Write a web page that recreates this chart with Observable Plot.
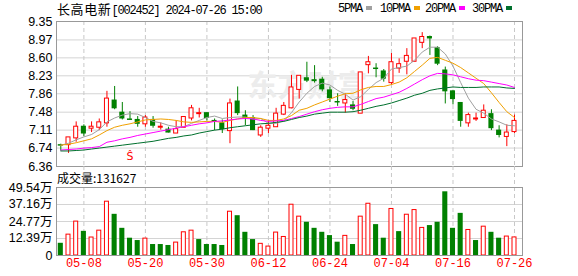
<!DOCTYPE html>
<html><head><meta charset="utf-8">
<script src="https://cdn.jsdelivr.net/npm/d3@7"></script>
<script src="https://cdn.jsdelivr.net/npm/@observablehq/plot@0.6"></script>
<style>
body{margin:0;background:#fff;}
#wrap{position:relative;width:578px;height:276px;overflow:hidden;background:#fff;}
.lbl{position:absolute;white-space:nowrap;line-height:14px;height:14px;color:#000;}
.mono{font-family:"Liberation Mono","Noto Sans CJK SC",monospace;font-size:12px;letter-spacing:-1.2px;}
.sw{display:inline-block;width:6px;height:4px;margin:0 0 2px 4px;}
svg{position:absolute;left:0;}
</style></head><body><div id="wrap"></div>
<script>
const title = "长高电新";
const code = "[002452] 2024-07-26 15:00";
const volLabel = "成交量:131627";
const dates = ["04-30","05-06","05-07","05-08","05-09","05-10","05-13","05-14","05-15","05-16","05-17","05-20","05-21","05-22","05-23","05-24","05-27","05-28","05-29","05-30","05-31","06-03","06-04","06-05","06-06","06-07","06-11","06-12","06-13","06-14","06-17","06-18","06-19","06-20","06-21","06-24","06-25","06-26","06-27","06-28","07-01","07-02","07-03","07-04","07-05","07-08","07-09","07-10","07-11","07-12","07-15","07-16","07-17","07-18","07-19","07-22","07-23","07-24","07-25","07-26"];
const opens  = [6.80,6.81,6.95,7.18,7.15,7.17,7.26,7.72,7.47,7.33,7.32,7.24,7.32,7.17,7.12,7.05,7.17,7.36,7.45,7.46,7.30,7.25,7.10,7.70,7.41,7.36,7.01,7.15,7.18,7.44,7.57,7.95,8.18,8.14,8.15,7.93,7.69,7.67,7.62,7.46,8.46,8.38,8.32,8.09,8.39,8.53,8.53,8.92,9.03,8.80,8.34,7.91,7.67,7.26,7.34,7.37,7.44,7.10,6.98,7.08];
const closes = [6.79,6.95,7.17,7.04,7.17,7.26,7.75,7.56,7.35,7.32,7.24,7.36,7.20,7.17,7.06,7.12,7.37,7.55,7.45,7.36,7.28,7.13,7.65,7.46,7.36,7.11,7.15,7.19,7.44,7.60,7.98,8.22,8.13,8.12,7.95,7.77,7.68,7.72,7.55,8.29,8.50,8.37,8.17,8.50,8.46,8.63,8.99,9.02,9.00,8.48,7.91,7.75,7.30,7.41,7.34,7.50,7.15,7.01,7.05,7.29];
const highs  = [6.82,6.95,7.28,7.22,7.28,7.34,7.91,8.01,7.68,7.49,7.39,7.41,7.39,7.26,7.17,7.30,7.38,7.62,7.56,7.47,7.34,7.32,7.75,8.00,7.51,7.41,7.20,7.30,7.56,7.68,8.24,8.22,8.51,8.44,8.20,8.00,7.86,7.86,7.70,8.30,8.63,8.48,8.36,8.69,8.58,8.79,8.99,9.12,9.05,8.83,8.41,7.93,7.68,7.46,7.46,7.63,7.53,7.20,7.22,7.42];
const lows   = [6.68,6.63,6.86,6.98,7.06,7.10,7.17,7.53,7.32,7.31,7.17,7.17,7.15,7.11,7.05,7.05,7.15,7.30,7.36,7.30,7.10,7.04,6.83,7.41,7.20,7.10,6.96,7.04,7.17,7.41,7.55,7.75,8.09,8.08,7.90,7.68,7.60,7.46,7.51,7.45,8.27,8.19,8.10,8.04,8.28,8.25,8.53,8.79,8.65,8.44,7.65,7.63,7.17,7.17,7.29,7.36,7.10,6.95,6.77,7.04];
const volumes = [8.9,15.2,24.7,17.6,13.1,18.1,39.2,30.0,19.8,12.6,10.9,12.3,8.0,8.0,7.3,9.4,16.9,18.1,11.6,8.0,8.0,7.3,31.9,29.0,16.9,11.6,8.5,6.5,16.7,13.5,37.0,28.3,24.2,19.8,16.9,14.5,9.7,14.3,8.0,28.3,37.7,22.5,12.6,33.9,17.4,29.7,33.1,20.1,21.8,24.2,46.4,19.8,30.7,18.6,10.9,21.0,16.9,12.6,13.8,13.16];
const ma5  = [6.80,6.84,6.91,6.97,7.02,7.12,7.28,7.36,7.42,7.45,7.44,7.37,7.29,7.26,7.21,7.18,7.18,7.25,7.31,7.37,7.40,7.35,7.37,7.38,7.38,7.34,7.35,7.25,7.25,7.30,7.47,7.69,7.87,8.01,8.08,8.04,7.93,7.85,7.73,7.80,7.95,8.09,8.18,8.37,8.40,8.43,8.55,8.72,8.82,8.82,8.68,8.43,8.09,7.77,7.54,7.46,7.34,7.28,7.21,7.20];
const ma10 = [6.80,6.82,6.85,6.89,6.93,7.01,7.10,7.17,7.21,7.24,7.28,7.32,7.33,7.34,7.33,7.31,7.28,7.27,7.28,7.29,7.29,7.27,7.31,7.34,7.37,7.37,7.35,7.31,7.31,7.34,7.41,7.52,7.56,7.63,7.69,7.75,7.81,7.86,7.87,7.94,7.99,8.01,8.01,8.05,8.10,8.19,8.32,8.45,8.59,8.61,8.55,8.49,8.40,8.29,8.18,8.07,7.88,7.68,7.49,7.37];
const ma20 = [6.70,6.71,6.72,6.74,6.75,6.77,6.86,6.89,6.93,6.96,7.00,7.03,7.06,7.09,7.12,7.15,7.18,7.21,7.24,7.26,7.29,7.30,7.32,7.34,7.35,7.34,7.31,7.29,7.30,7.31,7.35,7.39,7.44,7.49,7.53,7.56,7.58,7.59,7.59,7.64,7.70,7.76,7.79,7.84,7.89,7.97,8.06,8.15,8.23,8.28,8.27,8.25,8.21,8.17,8.14,8.13,8.10,8.07,8.04,7.99];
const ma30 = [6.68,6.68,6.69,6.70,6.72,6.74,6.76,6.78,6.80,6.82,6.84,6.86,6.88,6.91,6.94,6.96,6.99,7.01,7.05,7.08,7.11,7.13,7.16,7.18,7.20,7.22,7.24,7.25,7.27,7.29,7.33,7.37,7.40,7.44,7.46,7.48,7.48,7.48,7.49,7.52,7.56,7.60,7.63,7.67,7.72,7.77,7.83,7.87,7.93,7.96,7.98,8.00,7.99,7.99,7.99,8.00,8.00,8.00,7.98,7.97];
const priceTicks = [6.36,6.74,7.11,7.48,7.86,8.23,8.60,8.97,9.35];
const volTicks = [0,12.39,24.77,37.16,49.54];
const dateTicks = ["05-08","05-20","05-30","06-12","06-24","07-04","07-16","07-26"];
const maNames = ["5PMA","10PMA","20PMA","30PMA"];
const signals = [{date:"05-16", label:"Ŝ"}];
const watermark = ["东方财富"];

const RED = "#ff0000", GREEN = "#008000";
const maColors = ["#a0a0a0","#f0a000","#ff00ff","#00702d"];
const rows = dates.map((d,i)=>({i, date:d, open:opens[i], close:closes[i], high:highs[i], low:lows[i], vol:volumes[i],
  up: closes[i] >= opens[i],
  volUp: i === 0 ? closes[i] >= opens[i] : closes[i] >= closes[i-1]}));
const idx = d => dates.indexOf(d);
const tickIdx = dateTicks.map(idx);
const maSeries = [ma5, ma10, ma20, ma30].flatMap((arr,k)=>arr.map((v,i)=>({i, v, k})));
const xDomain = [-0.56, 60.04];
const W = 578, ML = 56, MR = 56;
const sansFont = "'Liberation Sans', Arial, 'Noto Sans CJK SC', sans-serif";

const wrap = document.getElementById("wrap");

// Header
const h = document.createElement("div");
h.className = "lbl mono"; h.style.left = "57px"; h.style.top = "2px";
h.innerHTML = `<span style="font-family:'Noto Sans CJK SC';font-size:13px;letter-spacing:0.6px">${title}</span>${code}`;
wrap.appendChild(h);
const legX = [338, 380, 425, 472];
maNames.forEach((n,k)=>{
  const e = document.createElement("div");
  e.className = "lbl mono"; e.style.left = legX[k]+"px"; e.style.top = "2px";
  e.innerHTML = `${n}<span class="sw" style="background:${maColors[k]}"></span>`;
  wrap.appendChild(e);
});

const price = Plot.plot({
  width: W, height: 166, marginLeft: ML, marginRight: MR, marginTop: 21, marginBottom: 0,
  style: {fontFamily: sansFont, fontSize: "12px", background: "transparent", overflow: "visible"},
  x: {type: "linear", domain: xDomain, axis: null},
  y: {domain: [6.36, 9.35], axis: null},
  marks: [
    Plot.ruleY(priceTicks, {stroke: "#d4d4d4"}),
    Plot.ruleX(tickIdx, {stroke: "#c8c8c8", strokeDasharray: "4,3"}),
    Plot.text(watermark, {frameAnchor: "middle", text: d => d, dx: 18, dy: -8, fontSize: 30, fontWeight: "bold", fill: "#ececec", fontFamily: "'Noto Sans CJK SC'"}),
    Plot.text(priceTicks, {y: d => d, text: d => d.toFixed(2), frameAnchor: "left", textAnchor: "end", dx: -4, fontSize: 12.5, fill: "#000"}),
    Plot.frame({stroke: "#999"}),
    Plot.ruleX(rows, {x: "i", y1: d => Math.max(d.open, d.close), y2: "high", stroke: d => d.up ? RED : GREEN}),
    Plot.ruleX(rows, {x: "i", y1: "low", y2: d => Math.min(d.open, d.close), stroke: d => d.up ? RED : GREEN}),
    Plot.rect(rows.filter(d => d.up), {x1: d => d.i - 0.26, x2: d => d.i + 0.26, y1: "open", y2: "close", fill: "white", stroke: RED, insetTop: -0.5, insetBottom: -0.5}),
    Plot.rect(rows.filter(d => !d.up), {x1: d => d.i - 0.33, x2: d => d.i + 0.33, y1: "open", y2: "close", fill: GREEN, insetTop: -0.5, insetBottom: -0.5}),
    Plot.line(maSeries, {x: "i", y: "v", z: "k", stroke: d => maColors[d.k], strokeWidth: 1}),
    Plot.text(signals, {x: d => idx(d.date), text: "label", frameAnchor: "bottom", dy: -7, fill: RED, fontSize: 11, fontFamily: "'DejaVu Sans'"})
  ]
});
price.style.top = "0px";
wrap.appendChild(price);

const vl = document.createElement("div");
vl.className = "lbl"; vl.style.left = "57px"; vl.style.top = "171px";
vl.style.fontFamily = "'Noto Sans CJK SC', sans-serif"; vl.style.fontSize = "12px";
vl.textContent = volLabel;
wrap.appendChild(vl);

const vol = Plot.plot({
  width: W, height: 110, marginLeft: ML, marginRight: MR, marginTop: 21, marginBottom: 21,
  style: {fontFamily: sansFont, fontSize: "12px", background: "transparent", overflow: "visible"},
  x: {type: "linear", domain: xDomain, axis: null},
  y: {domain: [0, 49.54], axis: null},
  marks: [
    Plot.ruleY(volTicks.slice(1, -1), {stroke: "#d4d4d4"}),
    Plot.ruleX(tickIdx, {stroke: "#c8c8c8", strokeDasharray: "4,3", insetTop: -21}),
    Plot.rect(rows.filter(d => d.volUp), {x1: d => d.i - 0.26, x2: d => d.i + 0.26, y1: 0, y2: "vol", fill: "white", stroke: RED}),
    Plot.rect(rows.filter(d => !d.volUp), {x1: d => d.i - 0.33, x2: d => d.i + 0.33, y1: 0, y2: "vol", fill: GREEN}),
    Plot.text(volTicks, {y: d => d, text: d => d === 0 ? "0" : d.toFixed(2) + "万", frameAnchor: "left", textAnchor: "end", dx: -4, fontSize: 12.5, fill: "#000"}),
    Plot.text(tickIdx, {x: d => d, text: d => dates[d], frameAnchor: "bottom", dy: 11, fill: RED, fontSize: 12, fontFamily: "'Liberation Mono', monospace", letterSpacing: "-1.2px"}),
    Plot.frame({stroke: "#999"})
  ]
});
vol.style.top = "166px";
wrap.appendChild(vol);
</script></body></html>
